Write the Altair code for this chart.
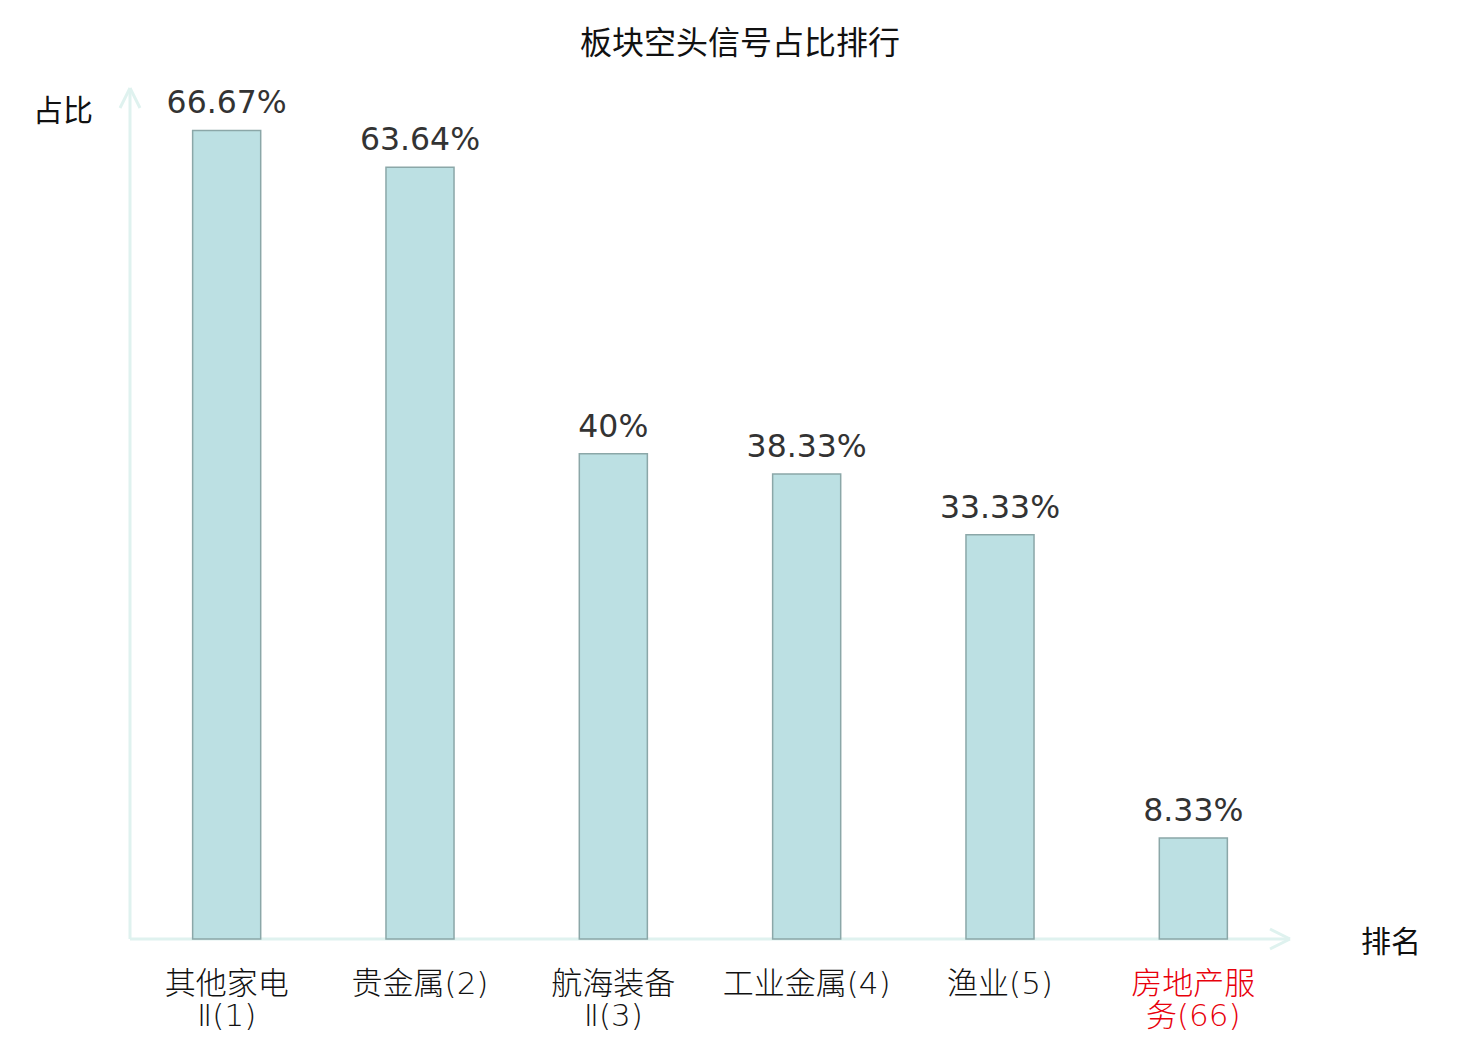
import altair as alt
import pandas as pd

categories = ["其他家电Ⅱ(1)", "贵金属(2)", "航海装备Ⅱ(3)", "工业金属(4)", "渔业(5)", "房地产服务(66)"]
label_lines = ["其他家电\nⅡ(1)", "贵金属(2)", "航海装备\nⅡ(3)", "工业金属(4)", "渔业(5)", "房地产服\n务(66)"]
values = [66.67, 63.64, 40.0, 38.33, 33.33, 8.33]
value_labels = ["66.67%", "63.64%", "40%", "38.33%", "33.33%", "8.33%"]
highlight = [False, False, False, False, False, True]

df = pd.DataFrame({"cat": categories, "lab": label_lines, "v": values,
                   "vl": value_labels, "hl": highlight})

W, H = 1160, 849
AXIS_COLOR = "#dff2ef"
CJK = "Noto Sans CJK SC"

x = alt.X("cat:N", sort=categories, axis=None,
          scale=alt.Scale(paddingInner=0.648, paddingOuter=0.324))
y = alt.Y("v:Q", axis=None, scale=alt.Scale(domain=[0, 70], nice=False))

base = alt.Chart(df)
bars = base.mark_bar(fill="#bce0e3", stroke="#8ba7a8", strokeWidth=1.5).encode(x=x, y=y)
vals = base.mark_text(font="DejaVu Sans", fontSize=31.5, color="#333333", dy=-17,
                      baseline="alphabetic").encode(x=x, y=y, text="vl:N")
xlabels = base.mark_text(font="DejaVu Sans, Noto Sans CJK SC", fontSize=31, fontWeight=200,
                         lineBreak="\n", lineHeight=32, baseline="top").encode(
    x=x, y=alt.value(H + 31), text="lab:N",
    color=alt.condition("datum.hl", alt.value("#e8000b"), alt.value("#111111")))

one = alt.Chart(pd.DataFrame({"a": [0]}))
rule = dict(color=AXIS_COLOR, strokeWidth=3)
xaxis = one.mark_rule(**rule).encode(x=alt.value(0), x2=alt.value(W), y=alt.value(H))
yaxis = one.mark_rule(**rule).encode(x=alt.value(0), y=alt.value(-2), y2=alt.value(H))
ya1 = one.mark_rule(**rule).encode(x=alt.value(0), y=alt.value(-2), x2=alt.value(-10), y2=alt.value(18))
ya2 = one.mark_rule(**rule).encode(x=alt.value(0), y=alt.value(-2), x2=alt.value(10), y2=alt.value(18))
xa1 = one.mark_rule(**rule).encode(x=alt.value(W), y=alt.value(H), x2=alt.value(W - 20), y2=alt.value(H - 10))
xa2 = one.mark_rule(**rule).encode(x=alt.value(W), y=alt.value(H), x2=alt.value(W - 20), y2=alt.value(H + 10))

ytitle = one.mark_text(font=CJK, fontSize=30, color="#111111").encode(
    x=alt.value(-67), y=alt.value(22), text=alt.value("占比"))
xtitle = one.mark_text(font=CJK, fontSize=30, color="#111111").encode(
    x=alt.value(1261), y=alt.value(H + 4), text=alt.value("排名"))
title = one.mark_text(font=CJK, fontSize=32, color="#111111").encode(
    x=alt.value(610), y=alt.value(-46), text=alt.value("板块空头信号占比排行"))

chart = alt.layer(xaxis, yaxis, ya1, ya2, xa1, xa2, bars, vals, xlabels,
                  ytitle, xtitle, title).properties(
    width=W, height=H,
    autosize=alt.AutoSizeParams(type="none"),
    padding={"left": 122, "top": 82, "right": 170, "bottom": 92},
).configure_view(stroke=None)

chart.save("out.html", embed_options={"renderer": "svg", "actions": False})
